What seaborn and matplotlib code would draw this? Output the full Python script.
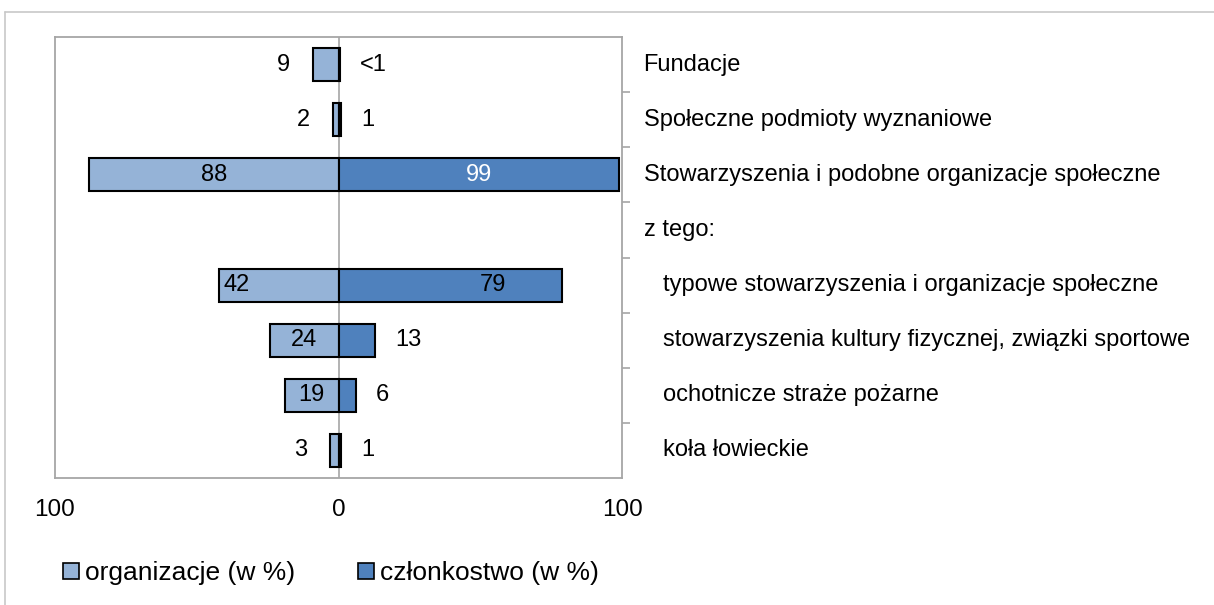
import numpy as np
import pandas as pd
import matplotlib.pyplot as plt
import seaborn as sns
from matplotlib.patches import Patch
from matplotlib.lines import Line2D
from matplotlib.ticker import FixedLocator
import matplotlib.transforms as mtransforms

CATEGORIES = [
    "Fundacje",
    "Społeczne podmioty wyznaniowe",
    "Stowarzyszenia i podobne organizacje społeczne",
    "z tego:",
    "typowe stowarzyszenia i organizacje społeczne",
    "stowarzyszenia kultury fizycznej, związki sportowe",
    "ochotnicze straże pożarne",
    "koła łowieckie",
]
INDENTED = [False, False, False, False, True, True, True, True]
ORG = [9, 2, 88, np.nan, 42, 24, 19, 3]
MEM = [0.4, 1, 99, np.nan, 79, 13, 6, 1]
ORG_LABELS = ["9", "2", "88", "", "42", "24", "19", "3"]
MEM_LABELS = ["<1", "1", "99", "", "79", "13", "6", "1"]
# labels that were dragged off-centre in the original chart (data units)
LABEL_SHIFT = {("org", 4): -15, ("mem", 4): 15}

C_ORG = "#95B3D7"
C_MEM = "#4F81BD"
GRID = "#A6A6A6"

sns.set_theme(style="white")
plt.rcParams["font.family"] = ["Liberation Sans", "DejaVu Sans"]
plt.rcParams.update({"text.color": "black", "xtick.color": "black",
                     "legend.labelcolor": "black"})

df = pd.DataFrame({"cat": CATEGORIES, "org": ORG, "mem": MEM})
df["org_neg"] = -df["org"]

fig = plt.figure(figsize=(12.14, 6.05), dpi=100)
ax = fig.add_axes([55 / 1214, 127 / 605, 567 / 1214, 441 / 605])

sns.barplot(data=df, x="org_neg", y="cat", orient="h", color=C_ORG, saturation=1,
            edgecolor="black", linewidth=1.5, width=0.6, ax=ax)
sns.barplot(data=df, x="mem", y="cat", orient="h", color=C_MEM, saturation=1,
            edgecolor="black", linewidth=1.5, width=0.6, ax=ax)

ax.axvline(0, color=GRID, linewidth=1.2, zorder=0.5)
ax.set_xlim(-100, 100)
ax.set_ylim(7.5, -0.5)
ax.set_xticks([-100, 0, 100])
ax.set_xticklabels(["100", "0", "100"], fontsize=17.5)
ax.tick_params(axis="x", length=0, pad=15, labelcolor="black")
ax.set_xlabel("")
ax.set_ylabel("")
ax.tick_params(axis="y", which="major", left=False, right=False,
               labelleft=False, labelright=False)
ax.yaxis.set_minor_locator(FixedLocator(np.arange(0.5, 7.5, 1)))
ax.tick_params(axis="y", which="minor", left=False, right=True,
               direction="out", length=6, width=1.2, color=GRID)
for s in ax.spines.values():
    s.set_visible(True)
    s.set_color(GRID)
    s.set_linewidth(1.3)

# value labels
FS = 17
for i, (o, lab) in enumerate(zip(ORG, ORG_LABELS)):
    if not lab:
        continue
    if o >= 15:
        ax.text(-o / 2 + LABEL_SHIFT.get(("org", i), 0), i, lab,
                ha="center", va="center", fontsize=FS, color="black")
    else:
        ax.text(-o - 8, i, lab, ha="right", va="center", fontsize=FS, color="black")
for i, (m, lab) in enumerate(zip(MEM, MEM_LABELS)):
    if not lab:
        continue
    if m >= 15:
        col = "white" if m > 90 else "black"
        ax.text(m / 2 + LABEL_SHIFT.get(("mem", i), 0), i, lab,
                ha="center", va="center", fontsize=FS, color=col)
    else:
        ax.text(m + 7, i, lab, ha="left", va="center", fontsize=FS, color="black")

# category labels on the right
trans = mtransforms.blended_transform_factory(ax.transAxes, ax.transData)
for i, (cat, ind) in enumerate(zip(CATEGORIES, INDENTED)):
    ax.text(1.0725 if ind else 1.038, i, cat, transform=trans,
            ha="left", va="center", fontsize=17, color="black")

# legend
handles = [Patch(facecolor=C_ORG, edgecolor="black", linewidth=1.2),
           Patch(facecolor=C_MEM, edgecolor="black", linewidth=1.2)]
fig.legend(handles, ["organizacje (w %)", "członkostwo (w %)"], ncol=2,
           loc="center left", bbox_to_anchor=(63 / 1214, 1 - 573 / 605),
           frameon=False, fontsize=19, handlelength=0.62, handleheight=0.55,
           handletextpad=0.2, columnspacing=2.4, borderpad=0, borderaxespad=0)

# outer frame of the original chart area
fig.add_artist(Line2D([5 / 1214, 1], [1 - 12 / 605, 1 - 12 / 605],
                      transform=fig.transFigure, color="#C8C8C8", linewidth=1.2))
fig.add_artist(Line2D([5 / 1214, 5 / 1214], [0, 1 - 12 / 605],
                      transform=fig.transFigure, color="#C8C8C8", linewidth=1.2))

fig.savefig("out.png", dpi=100)
